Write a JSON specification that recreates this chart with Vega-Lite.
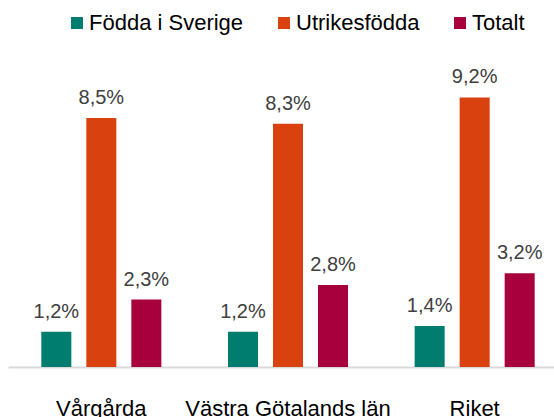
{
  "$schema": "https://vega.github.io/schema/vega-lite/v6.json",
  "width": 560,
  "height": 293,
  "autosize": {"type": "none"},
  "padding": {"left": 8, "top": 74, "right": 0, "bottom": 50},
  "background": "white",
  "config": {"view": {"stroke": null}, "font": "Liberation Sans"},
  "data": {
    "values": [
      {"region": "Vårgårda", "group": "Födda i Sverige", "value": 1.2, "label": "1,2%"},
      {"region": "Vårgårda", "group": "Utrikesfödda", "value": 8.5, "label": "8,5%"},
      {"region": "Vårgårda", "group": "Totalt", "value": 2.3, "label": "2,3%"},
      {"region": "Västra Götalands län", "group": "Födda i Sverige", "value": 1.2, "label": "1,2%"},
      {"region": "Västra Götalands län", "group": "Utrikesfödda", "value": 8.3, "label": "8,3%"},
      {"region": "Västra Götalands län", "group": "Totalt", "value": 2.8, "label": "2,8%"},
      {"region": "Riket", "group": "Födda i Sverige", "value": 1.4, "label": "1,4%"},
      {"region": "Riket", "group": "Utrikesfödda", "value": 9.2, "label": "9,2%"},
      {"region": "Riket", "group": "Totalt", "value": 3.2, "label": "3,2%"}
    ]
  },
  "encoding": {
    "x": {
      "field": "region",
      "type": "nominal",
      "sort": ["Vårgårda", "Västra Götalands län", "Riket"],
      "scale": {"paddingInner": 0, "paddingOuter": 0},
      "axis": {
        "title": null,
        "labelAngle": 0,
        "domain": false,
        "ticks": false,
        "tickSize": 0,
        "labelPadding": 31,
        "labelFontSize": 22,
        "labelLimit": 0,
        "labelColor": "#000000",
        "labelFont": "Liberation Sans"
      }
    },
    "xOffset": {
      "field": "group",
      "type": "nominal",
      "sort": ["Födda i Sverige", "Utrikesfödda", "Totalt"],
      "scale": {"paddingInner": 0.333, "paddingOuter": 0.74}
    },
    "y": {
      "field": "value",
      "type": "quantitative",
      "scale": {"domain": [0, 10], "nice": false},
      "axis": {
        "title": null,
        "domain": false,
        "ticks": false,
        "labels": false,
        "values": [0],
        "gridColor": "#D9D9D9",
        "gridWidth": 2
      }
    }
  },
  "layer": [
    {
      "mark": {"type": "bar"},
      "encoding": {
        "color": {
          "field": "group",
          "type": "nominal",
          "sort": ["Födda i Sverige", "Utrikesfödda", "Totalt"],
          "scale": {
            "domain": ["Födda i Sverige", "Utrikesfödda", "Totalt"],
            "range": ["#007D6E", "#D9410F", "#A8003C"]
          },
          "legend": {
            "title": null,
            "orient": "none",
            "direction": "horizontal",
            "legendX": 58,
            "legendY": -62,
            "symbolType": "square",
            "symbolSize": 144,
            "symbolStrokeWidth": 0,
            "labelFontSize": 22,
            "labelFont": "Liberation Sans",
            "labelColor": "#000000",
            "labelOffset": 1,
            "columnPadding": 29
          }
        }
      }
    },
    {
      "mark": {"type": "text", "dy": -14, "baseline": "alphabetic", "fontSize": 20, "color": "#404040"},
      "encoding": {
        "text": {"field": "label", "type": "nominal"},
        "detail": {"field": "group", "type": "nominal"}
      }
    }
  ]
}
